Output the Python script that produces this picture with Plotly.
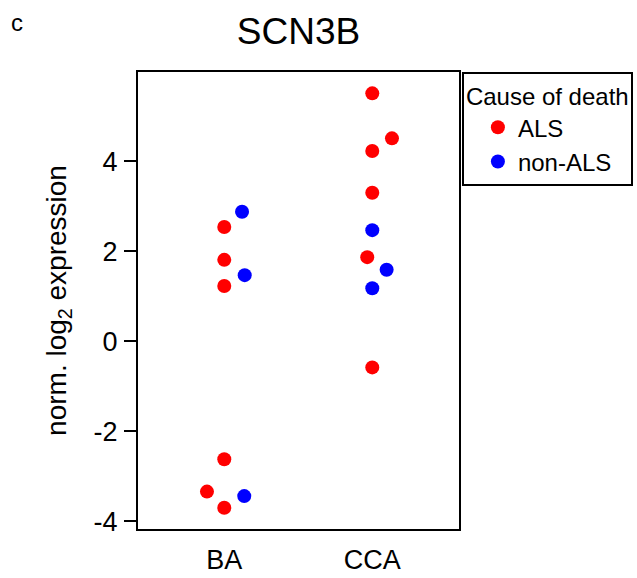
import plotly.graph_objects as go

categories = ["BA", "CCA"]
tick_positions = [1, 2]

# ALS samples
als_region = ["BA", "BA", "BA", "BA", "BA", "BA", "CCA", "CCA", "CCA", "CCA", "CCA", "CCA"]
als_values = [2.54, 1.81, 1.23, -2.62, -3.34, -3.70, 5.51, 4.51, 4.23, 3.30, 1.87, -0.58]
als_jitter = [0.0, 0.0, 0.0, 0.0, -0.117, 0.0, 0.0, 0.133, 0.0, 0.0, -0.034, 0.0]

# non-ALS samples
nonals_region = ["BA", "BA", "BA", "CCA", "CCA", "CCA"]
nonals_values = [2.88, 1.47, -3.44, 2.47, 1.59, 1.18]
nonals_jitter = [0.12, 0.138, 0.135, 0.0, 0.097, 0.0]

y_ticks = [-4, -2, 0, 2, 4]
y_ticklabels = ["-4", "-2", "0", "2", "4"]

pos = dict(zip(categories, tick_positions))
FONT = "Liberation Sans, Arial, sans-serif"

fig = go.Figure()
fig.add_trace(go.Scatter(
    x=[pos[r] + j for r, j in zip(als_region, als_jitter)], y=als_values,
    mode="markers", name="ALS",
    marker=dict(color="#FF0000", size=14, line=dict(width=0)),
))
fig.add_trace(go.Scatter(
    x=[pos[r] + j for r, j in zip(nonals_region, nonals_jitter)], y=nonals_values,
    mode="markers", name="non-ALS",
    marker=dict(color="#0000FF", size=14, line=dict(width=0)),
))

fig.update_layout(
    width=637, height=578,
    margin=dict(l=138, r=178, t=72, b=49, autoexpand=False),
    paper_bgcolor="white", plot_bgcolor="white",
    font=dict(family=FONT, color="black"),
    showlegend=True,
    title=dict(text="SCN3B", font=dict(size=37, family=FONT, color="black"),
               x=0.5, xref="paper", xanchor="center",
               y=1 - 31 / 578, yref="container", yanchor="middle"),
    legend=dict(
        title=dict(text="Cause of death", font=dict(size=24, family=FONT)),
        font=dict(size=24, family=FONT),
        x=1.009, xanchor="left", y=1.0, yanchor="top",
        bordercolor="black", borderwidth=2, bgcolor="white",
        indentation=14, itemsizing="trace",
    ),
    xaxis=dict(
        range=[0.417, 2.586], tickvals=tick_positions, ticktext=categories,
        showgrid=False, zeroline=False, ticks="",
        showline=True, linecolor="black", linewidth=2, mirror=True,
        tickfont=dict(size=27, family=FONT), ticklabelstandoff=6,
        automargin=False,
    ),
    yaxis=dict(
        range=[-4.171, 5.984], tickvals=y_ticks, ticktext=y_ticklabels,
        showgrid=False, zeroline=False,
        ticks="outside", ticklen=12, tickwidth=2, tickcolor="black",
        showline=True, linecolor="black", linewidth=2, mirror=True,
        tickfont=dict(size=27, family=FONT), ticklabelstandoff=1,
        title=dict(text="norm. log<sub>2</sub> expression",
                   font=dict(size=28, family=FONT), standoff=19),
        automargin=False,
    ),
    annotations=[dict(text="c", x=-0.377, y=1.109, xref="paper", yref="paper",
                      showarrow=False, font=dict(size=24, family=FONT),
                      xanchor="center", yanchor="middle")],
)

fig.write_html("out.html")
